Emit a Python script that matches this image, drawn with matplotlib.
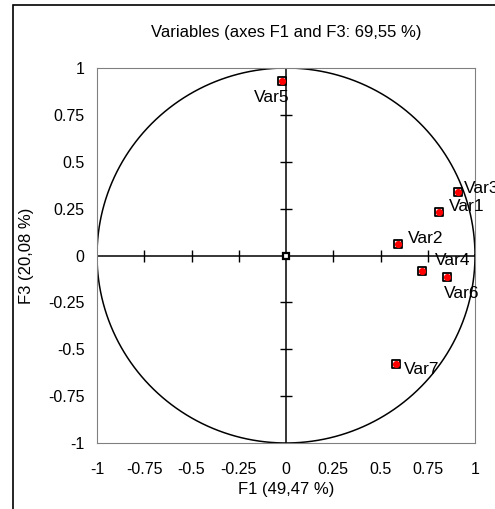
import numpy as np
import matplotlib.pyplot as plt
from matplotlib.patches import Rectangle

plt.rcParams['font.family'] = ['Liberation Sans', 'DejaVu Sans']
plt.rcParams['font.size'] = 11.5

names = ['Var1', 'Var2', 'Var3', 'Var4', 'Var5', 'Var6', 'Var7']
f1 = [0.81, 0.592, 0.91, 0.72, -0.021, 0.852, 0.58]
f3 = [0.23, 0.059, 0.34, -0.08, 0.933, -0.112, -0.58]
# label offsets in points
offsets = {'Var1': (7, 4), 'Var2': (7, 4), 'Var3': (4, 2), 'Var4': (9, 7),
           'Var5': (-20, -12), 'Var6': (-2, -12), 'Var7': (6, -4)}
ticks = [-1, -0.75, -0.5, -0.25, 0, 0.25, 0.5, 0.75, 1]
tick_labels = ['-1', '-0.75', '-0.5', '-0.25', '0', '0.25', '0.5', '0.75', '1']

fig = plt.figure(figsize=(4.95, 5.09), dpi=100)
fig.patches.append(Rectangle((13 / 495, -0.1), 1.2, 1.1 - 5 / 509, transform=fig.transFigure,
                             fill=False, edgecolor='black', linewidth=1.2))
ax = fig.add_axes([97 / 495, 1 - 443 / 509, 378 / 495, 375 / 509])
ax.set_xlim(-1, 1)
ax.set_ylim(-1, 1)
for s in ax.spines.values():
    s.set_color('#808080')
ax.set_xticks(ticks)
ax.set_xticklabels(tick_labels)
ax.set_yticks(ticks)
ax.set_yticklabels(tick_labels)
ax.tick_params(axis='y', length=0, pad=9)
ax.tick_params(axis='x', length=0, pad=14)

# unit circle
t = np.linspace(0, 2 * np.pi, 400)
ax.plot(np.cos(t), np.sin(t), color='black', lw=1.1)

# cross axes with ticks
ax.plot([-1, 1], [0, 0], color='black', lw=1.1)
ax.plot([0, 0], [-1, 1], color='black', lw=1.1)
inner = [v for v in ticks if v not in (-1, 0, 1)]
ax.plot(inner, [0] * len(inner), ls='none', marker='|', ms=9, mew=1, color='black')
ax.plot([0] * len(inner), inner, ls='none', marker='_', ms=9, mew=1, color='black')
ax.plot([0], [0], marker='s', ms=5, mfc='white', mec='black', mew=1.6)

ax.scatter(f1, f3, marker='s', s=40, facecolor='white', edgecolor='black', linewidth=1.3, zorder=3)
ax.scatter(f1, f3, marker='o', s=17, color='red', zorder=4)
for n, x, y in zip(names, f1, f3):
    ax.annotate(n, (x, y), xytext=offsets[n], textcoords='offset points',
                ha='left', va='center', fontsize=12.5)

ax.set_title('Variables (axes F1 and F3: 69,55 %)', fontsize=12, pad=22)
ax.set_xlabel('F1 (49,47 %)', fontsize=12, labelpad=3)
ax.set_ylabel('F3 (20,08 %)', fontsize=12, labelpad=10)

fig.savefig('out.png', dpi=100)
